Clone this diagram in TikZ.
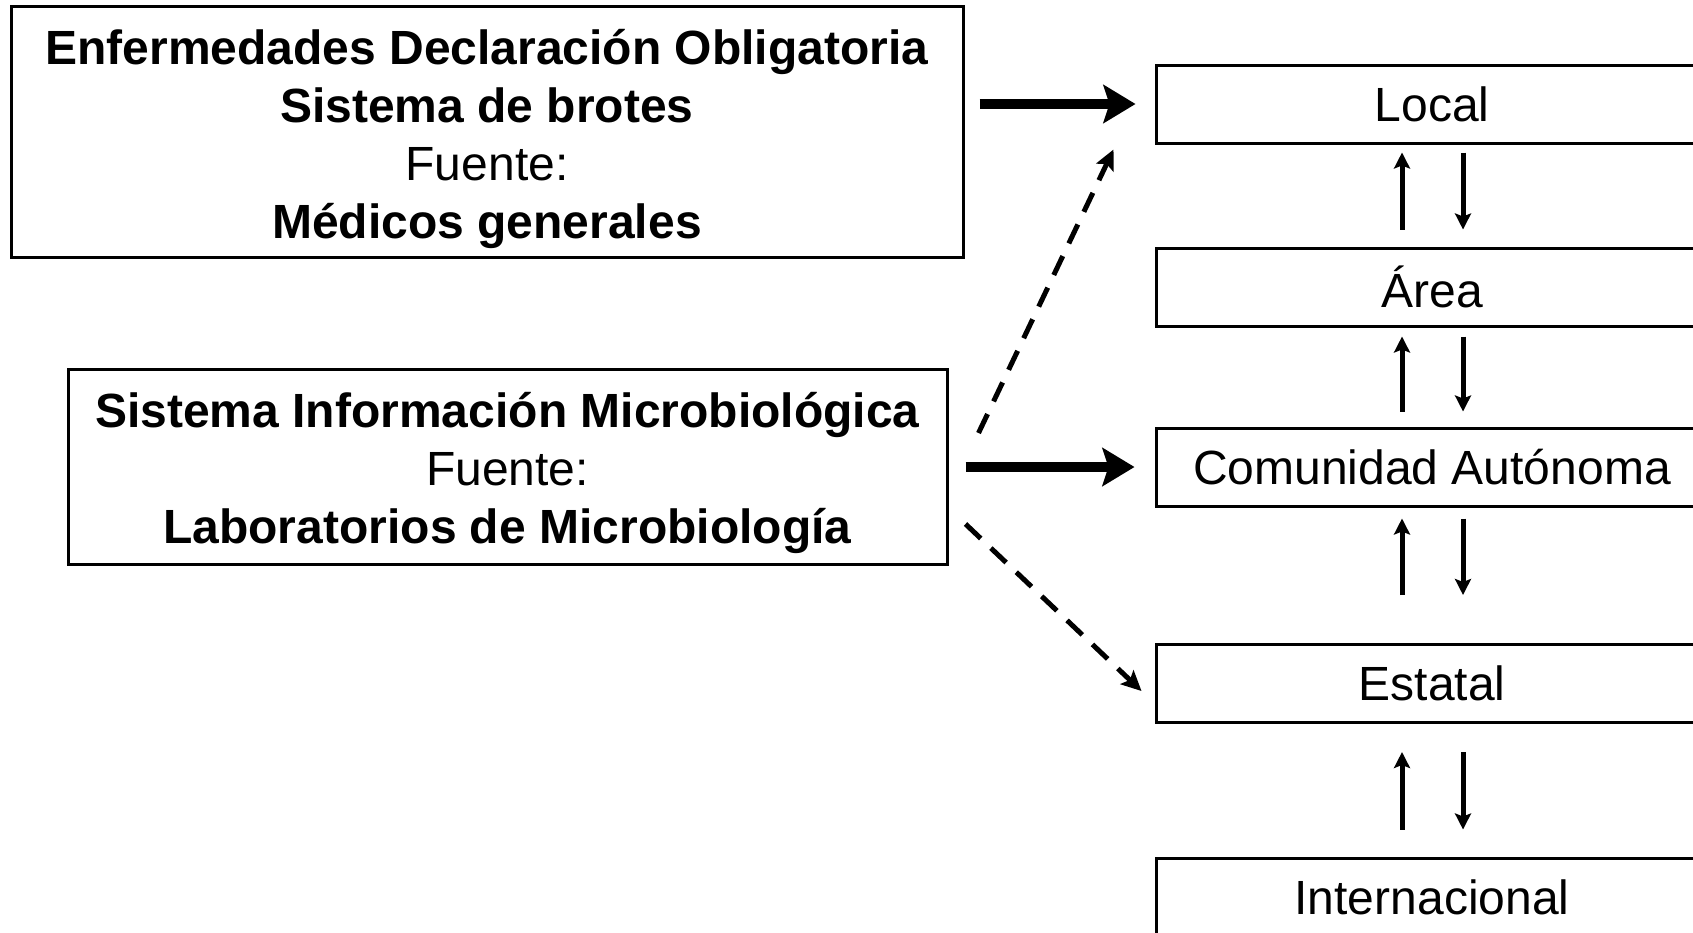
\documentclass[tikz,border=0pt]{standalone}
\usepackage{fontspec}
\setmainfont{Liberation Sans}
\usetikzlibrary{arrows.meta}
\begin{document}
\begin{tikzpicture}[x=1pt,y=-1pt,
  box/.style={draw,line width=3pt,inner sep=0pt,align=center,font=\fontsize{48}{58}\selectfont},
  txt/.style={inner sep=0pt,align=center,font=\fontsize{48}{58}\selectfont},
  lvl/.style={box,minimum width=552pt,minimum height=78pt},
  bigarr/.style={line width=10.5pt,-{Stealth[length=32pt,width=38pt,inset=6pt]}},
  varr/.style={line width=5pt,-{Stealth[length=16pt,width=16pt,inset=3pt]}},
  darr/.style={line width=5pt,dash pattern=on 21pt off 14pt,-{Stealth[length=20pt,width=19pt,inset=4pt]}}]
\useasboundingbox (0,0) rectangle (1693,932);
\clip (0,0) rectangle (1693,932);

\node[box,minimum width=952pt,minimum height=251pt] (edo) at (487,131.5) {};
\node[txt] (edotxt) at (487,138.5)
  {\textbf{Enfermedades Declaración Obligatoria}\\ \textbf{Sistema de brotes}\\ Fuente:\\ \textbf{Médicos generales}};
\node[box,minimum width=879pt,minimum height=195pt] (sim) at (507.5,466.5) {};
\node[txt] (simtxt) at (507.5,472.5)
  {\textbf{Sistema Información Microbiológica}\\ Fuente:\\ \textbf{Laboratorios de Microbiología}};

\node[lvl] (local) at (1432,104) {Local};
\node[lvl] (area) at (1432,287) {Área};
\node[lvl] (com) at (1432,467) {Comunidad Autónoma};
\node[lvl] (est) at (1432,683.5) {Estatal};
\node[lvl] (int) at (1432,897) {Internacional};

\coordinate (ux) at (1402,0);
\coordinate (dx) at (1463,0);

% thick arrows
\draw[bigarr] ([xshift=15pt]edo.east |- local.west) -- ([xshift=-19pt]local.west);
\draw[bigarr] ([xshift=17pt]sim.east |- com.west) -- ([xshift=-20pt]com.west);

% dashed arrows
\draw[darr] ([xshift=30pt,yshift=33.5pt]sim.east) -- ([xshift=-41pt,yshift=-5pt]local.south west);
\draw[darr] ([xshift=17pt,yshift=-57.5pt]sim.east) -- ([xshift=-13pt,yshift=-7.5pt]est.west);

% vertical arrows
\draw[varr,shorten >=8pt,shorten <=17pt] (area.north -| ux) -- (local.south -| ux);
\draw[varr,shorten <=8pt,shorten >=17pt] (local.south -| dx) -- (area.north -| dx);
\draw[varr,shorten >=9pt,shorten <=15pt] (com.north -| ux) -- (area.south -| ux);
\draw[varr,shorten <=9pt,shorten >=15pt] (area.south -| dx) -- (com.north -| dx);
\draw[varr,shorten >=11pt,shorten <=48pt] (est.north -| ux) -- (com.south -| ux);
\draw[varr,shorten <=11pt,shorten >=48pt] (com.south -| dx) -- (est.north -| dx);
\draw[varr,shorten >=28pt,shorten <=27pt] (int.north -| ux) -- (est.south -| ux);
\draw[varr,shorten <=28pt,shorten >=27pt] (est.south -| dx) -- (int.north -| dx);
\end{tikzpicture}
\end{document}
